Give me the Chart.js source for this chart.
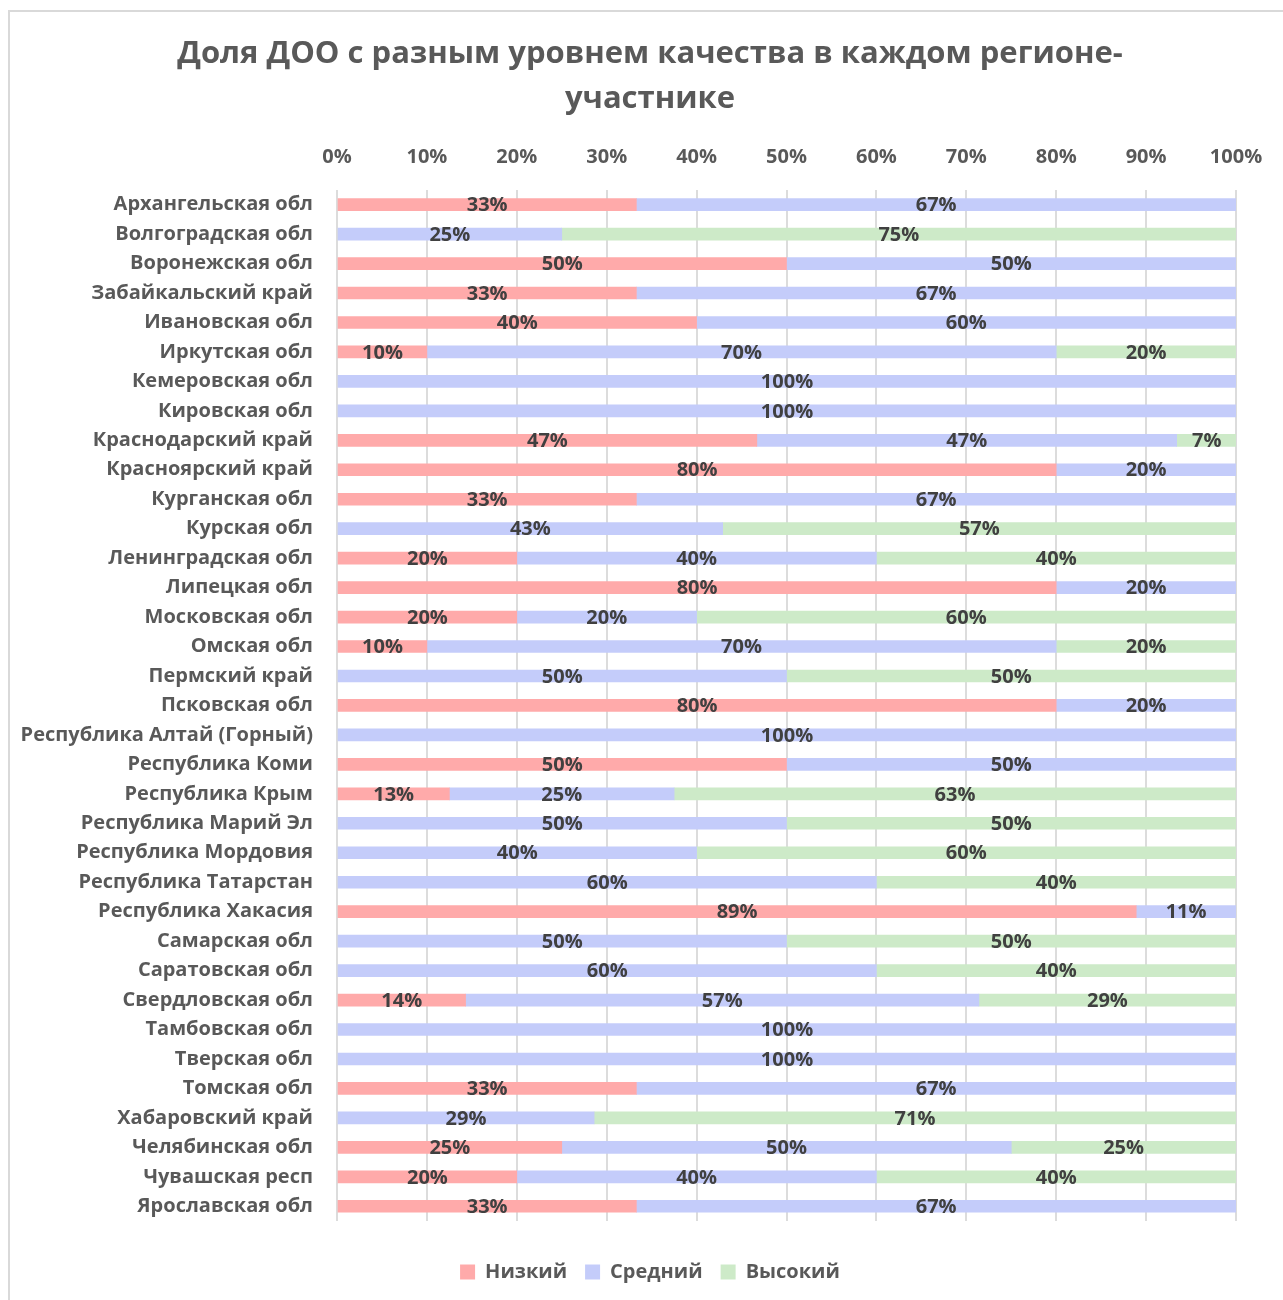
<!DOCTYPE html>
<html lang="ru">
<head>
<meta charset="utf-8">
<title>Доля ДОО с разным уровнем качества</title>
<script src="https://cdn.jsdelivr.net/npm/chart.js@4"></script>
<style>
  body { margin: 0; background: #fff; overflow: hidden; }
  #frame {
    position: absolute; left: 8px; top: 10px;
    width: 1400px; height: 1400px;
    border-left: 2px solid #d9d9d9; border-top: 2px solid #d9d9d9;
  }
  #chart { display: block; }
</style>
</head>
<body>
<div id="frame"><canvas id="chart" width="1280" height="1288"></canvas></div>
<script>
const regions = [
  "Архангельская обл", "Волгоградская обл", "Воронежская обл", "Забайкальский край",
  "Ивановская обл", "Иркутская обл", "Кемеровская обл", "Кировская обл",
  "Краснодарский край", "Красноярский край", "Курганская обл", "Курская обл",
  "Ленинградская обл", "Липецкая обл", "Московская обл", "Омская обл",
  "Пермский край", "Псковская обл", "Республика Алтай (Горный)", "Республика Коми",
  "Республика Крым", "Республика Марий Эл", "Республика Мордовия", "Республика Татарстан",
  "Республика Хакасия", "Самарская обл", "Саратовская обл", "Свердловская обл",
  "Тамбовская обл", "Тверская обл", "Томская обл", "Хабаровский край",
  "Челябинская обл", "Чувашская респ", "Ярославская обл"
];

// shares in percent, null where a region has no kindergartens of that level
const low = [
  33.3, null, 50, 33.3, 40, 10, null, null, 46.7, 80, 33.3, null,
  20, 80, 20, 10, null, 80, null, 50, 12.5, null, null, null,
  88.9, null, null, 14.3, null, null, 33.3, null, 25, 20, 33.3
];
const mid = [
  66.7, 25, 50, 66.7, 60, 70, 100, 100, 46.7, 20, 66.7, 42.9,
  40, 20, 20, 70, 50, 20, 100, 50, 25, 50, 40, 60,
  11.1, 50, 60, 57.1, 100, 100, 66.7, 28.6, 50, 40, 66.7
];
const high = [
  null, 75, null, null, null, 20, null, null, 6.7, null, null, 57.1,
  40, null, 60, 20, 50, null, null, null, 62.5, 50, 60, 40,
  null, 50, 40, 28.6, null, null, null, 71.4, 25, 40, null
];

const tickValues = [0, 10, 20, 30, 40, 50, 60, 70, 80, 90, 100];

const FONT = "'Open Sans', sans-serif";

const valueLabels = {
  id: "valueLabels",
  afterDatasetsDraw(chart) {
    const ctx = chart.ctx;
    ctx.save();
    ctx.font = "bold 20px " + FONT;
    ctx.fillStyle = "#404040";
    ctx.textAlign = "center";
    ctx.textBaseline = "middle";
    chart.data.datasets.forEach((ds, i) => {
      chart.getDatasetMeta(i).data.forEach((bar, j) => {
        const v = ds.data[j];
        if (!v) return;
        ctx.fillText(Math.round(v) + "%", (bar.x + bar.base) / 2, bar.y + 1);
      });
    });
    ctx.restore();
  }
};

const ctx = document.getElementById("chart").getContext("2d");
new Chart(ctx, {
  type: "bar",
  data: {
    labels: regions,
    datasets: [
      { label: "Низкий", data: low, backgroundColor: "#ffaaaa" },
      { label: "Средний", data: mid, backgroundColor: "#c4ccfa" },
      { label: "Высокий", data: high, backgroundColor: "#cdeac8" },
    ],
  },
  options: {
    responsive: false,
    animation: false,
    indexAxis: "y",
    barThickness: 12,
    layout: { padding: { left: 0, right: 0, top: 0, bottom: 8 } },
    plugins: {
      title: {
        display: true,
        text: ["Доля ДОО с разным уровнем качества в каждом регионе-", "участнике"],
        color: "#595959",
        font: { family: FONT, size: 31, weight: "bold", lineHeight: 1.45 },
        padding: { top: 20, bottom: 10 },
      },
      legend: {
        position: "bottom",
        title: {
          display: true,
          text: " ",
          font: { size: 10 },
          padding: { top: 4, bottom: 7 },
        },
        labels: {
          color: "#595959",
          font: { family: FONT, size: 20, weight: "bold" },
          boxWidth: 15,
          boxHeight: 15,
          padding: 18,
        },
      },
      tooltip: { enabled: false },
    },
    scales: {
      x: {
        position: "top",
        stacked: true,
        min: 0,
        max: 100,
        afterBuildTicks: (scale) => {
          scale.ticks = tickValues.map((v) => ({ value: v }));
        },
        afterFit: (scale) => { scale.height = 58; },
        ticks: {
          padding: 21,
          color: "#595959",
          font: { family: FONT, size: 20, weight: "bold" },
          callback: (v) => v + "%",
        },
        grid: { color: "#dcdcdc", lineWidth: 2, drawTicks: false },
        border: { display: false },
      },
      y: {
        stacked: true,
        afterFit: (scale) => { scale.width = 327; },
        ticks: {
          padding: 24,
          color: "#595959",
          font: { family: FONT, size: 20, weight: "bold" },
        },
        grid: { display: false, drawTicks: false },
        border: { display: false },
      },
      // empty right-hand margin so the plot sits left of the title's centre
      yMargin: {
        type: "category",
        position: "right",
        afterFit: (scale) => { scale.width = 54; },
        ticks: { display: false },
        grid: { display: false, drawTicks: false },
        border: { display: false },
      },
    },
  },
  plugins: [valueLabels],
});
</script>
</body>
</html>
